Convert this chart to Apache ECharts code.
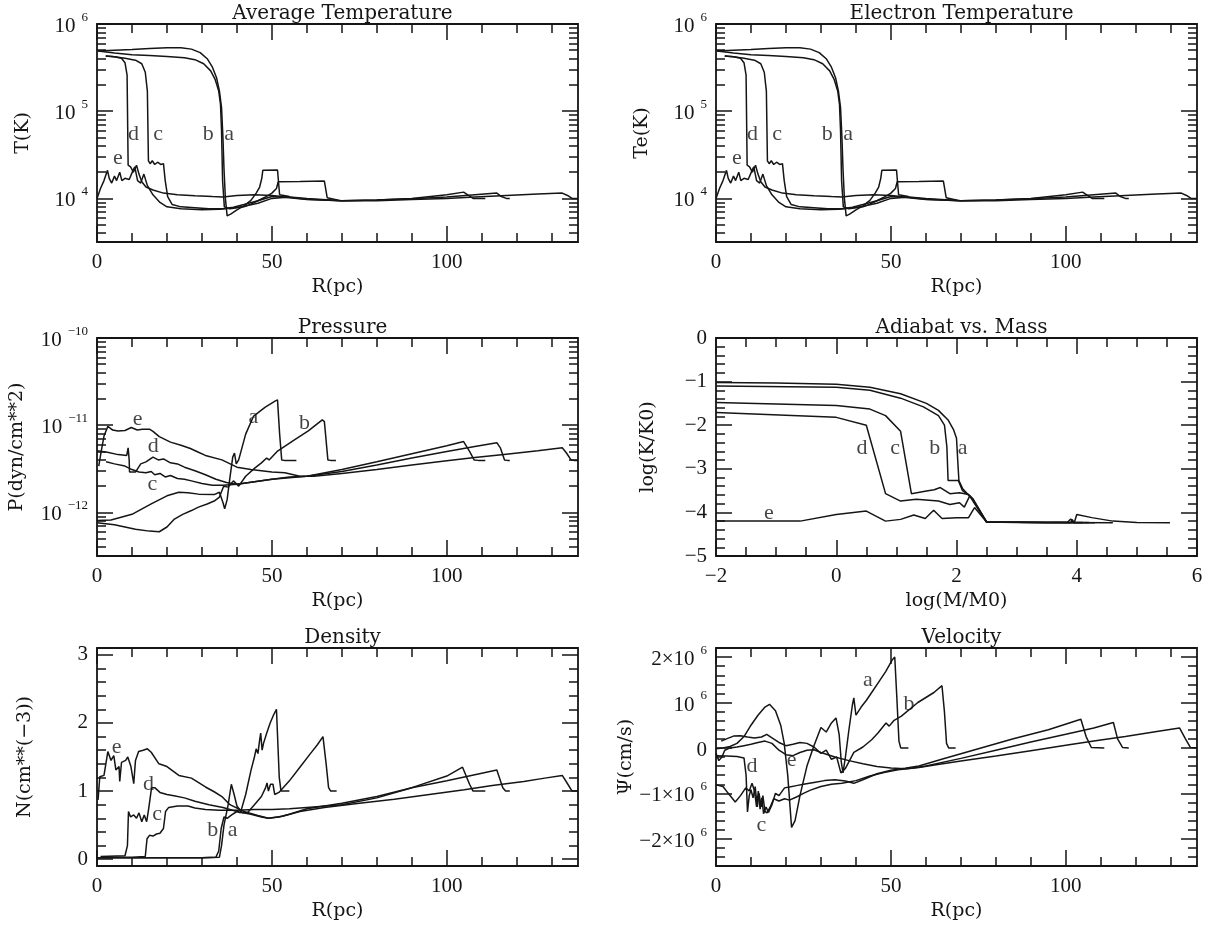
<!DOCTYPE html>
<html><head><meta charset="utf-8">
<script src="https://cdn.jsdelivr.net/npm/echarts@6/dist/echarts.min.js"></script>
<style>html,body{margin:0;padding:0;background:#fff}#c{width:1216px;height:926px}</style>
</head><body><div id="c"></div>
<script>
// ---------------- DATA ----------------
// Temperature (R in pc, T in K) - models a..e
const tempA = [[0.3,4.9e5],[5,5.0e5],[10,5.1e5],[15,5.25e5],[20,5.35e5],[24,5.35e5],[27,5.15e5],[29.5,4.7e5],[31.5,4.0e5],[33,3.2e5],[34.2,2.4e5],[35,1.7e5],[35.6,1.1e5],[36,5e4],[36.3,2.2e4],[36.7,1.0e4],[37.2,6.3e3],[38.2,6.6e3],[40,7.4e3],[42,8.2e3],[44,9.5e3],[45.5,1.15e4],[46.5,1.35e4],[47.1,1.7e4],[47.4,2.1e4],[51.6,2.12e4],[52.2,1.1e4],[55,1.05e4]];
const tempB = [[0.3,4.9e5],[5,4.65e5],[10,4.45e5],[15,4.35e5],[20,4.25e5],[25,4.1e5],[28,3.9e5],[30.5,3.5e5],[32.5,2.9e5],[33.8,2.3e5],[34.8,1.7e5],[35.3,1.2e5],[35.6,6e4],[35.9,1.6e4],[36.4,8.0e3],[38,7.6e3],[40,7.8e3],[42,8.0e3],[44,8.6e3],[46,9.4e3],[48,1.03e4],[50,1.15e4],[51.3,1.3e4],[51.8,1.55e4],[58,1.56e4],[65,1.58e4],[65.8,1.02e4],[69,9.5e3]];
const tempC = [[2.5,4.3e5],[5,4.2e5],[8,4.05e5],[11,3.85e5],[12.8,3.5e5],[13.8,2.8e5],[14.4,1.7e5],[14.7,2.7e4],[15.2,2.5e4],[15.8,2.7e4],[16.5,2.45e4],[17.3,2.6e4],[18.2,2.45e4],[19,2.5e4],[19.5,1.6e4],[20.2,1.05e4],[21.5,8.5e3],[24,8.0e3],[28,7.8e3],[32,7.6e3],[36,7.6e3],[39,7.9e3],[42,8.5e3],[46,9.4e3],[50,1.05e4],[55,1.02e4],[60,9.7e3],[70,9.4e3],[80,9.6e3],[90,1.0e4],[100,1.1e4],[104.8,1.18e4],[106.2,1.08e4],[107.5,1.0e4],[111,1.0e4]];
const tempD = [[2.5,4.3e5],[5,4.2e5],[7,4.05e5],[8,3.6e5],[8.6,2.6e5],[8.9,2.4e4],[9.6,2.3e4],[10.4,2.0e4],[11.3,2.4e4],[12,1.9e4],[12.8,1.55e4],[14,1.35e4],[16,1.25e4],[19,1.15e4],[23,1.1e4],[28,1.07e4],[33,1.05e4],[36,1.04e4],[40,1.08e4],[45,1.1e4],[50,1.08e4],[55,1.03e4],[60,9.8e3],[70,9.4e3],[80,9.6e3],[90,9.9e3],[100,1.04e4],[108,1.1e4],[114.3,1.15e4],[115.6,1.05e4],[117,1.0e4],[118,1.0e4]];
const tempE = [[0,1.0e4],[1,1.3e4],[2,1.6e4],[3,2.1e4],[3.5,1.7e4],[4.2,1.5e4],[5,1.8e4],[5.6,1.6e4],[6.5,2.0e4],[7.1,1.6e4],[8,1.7e4],[9.2,1.65e4],[10.1,2.0e4],[10.8,2.3e4],[11.6,1.6e4],[12.5,1.5e4],[13.4,1.9e4],[14.4,1.4e4],[16,1.1e4],[18,9.0e3],[20,8.0e3],[24,7.6e3],[30,7.4e3],[35,7.5e3],[38,7.7e3],[42,8.1e3],[46,8.8e3],[50,1.0e4],[55,1.04e4],[60,1.0e4],[70,9.4e3],[80,9.4e3],[90,9.7e3],[100,1.0e4],[108,1.04e4],[117,1.08e4],[126,1.12e4],[133,1.15e4],[134.5,1.08e4],[135.8,1.0e4],[137.5,1.0e4]];
const tempNotes = [[6.0,2.9e4,'e'],[10.4,5.4e4,'d'],[17.5,5.4e4,'c'],[31.8,5.4e4,'b'],[37.8,5.4e4,'a']];

// Pressure (dyn/cm^2)
const presA = [[0,8.1e-13],[4,8.2e-13],[10,9.5e-13],[15.5,1.25e-12],[20,1.55e-12],[23.4,1.7e-12],[26,1.68e-12],[29,1.62e-12],[33.5,1.6e-12],[35,1.7e-12],[36,1.3e-12],[36.5,1.1e-12],[37.2,1.4e-12],[38,2.5e-12],[38.8,4.3e-12],[39.3,4.8e-12],[39.8,3.6e-12],[40.5,4.0e-12],[42.5,7.9e-12],[44.7,1.26e-11],[48,1.6e-11],[51,1.9e-11],[51.6,1.95e-11],[52.2,8e-12],[52.8,4.0e-12],[53.5,3.95e-12],[57,3.95e-12]];
const presB = [[0,7.6e-13],[5,7.2e-13],[11,6.4e-13],[15,6.1e-13],[17.8,6.0e-13],[20,6.8e-13],[22,8.3e-13],[24.5,9.5e-13],[27,1.05e-12],[29,1.15e-12],[31.5,1.25e-12],[33.5,1.35e-12],[35,1.5e-12],[36.2,2.0e-12],[37.5,1.95e-12],[39,2.3e-12],[40.5,2.0e-12],[42.5,2.6e-12],[45,3.2e-12],[47,3.7e-12],[48.5,4.2e-12],[49.2,4.0e-12],[51.5,5.0e-12],[56,6.6e-12],[60.4,8.6e-12],[64.4,1.15e-11],[65,1.1e-11],[66,4.0e-12],[66.8,3.95e-12],[68.3,3.95e-12]];
const presC = [[2.6,3.8e-12],[5,3.6e-12],[8,3.4e-12],[10,3.1e-12],[12,2.9e-12],[14,2.85e-12],[15.5,2.95e-12],[16.5,2.7e-12],[18,2.8e-12],[19.5,2.55e-12],[21,2.65e-12],[23,2.45e-12],[25,2.4e-12],[27,2.3e-12],[30,2.15e-12],[33,2.05e-12],[36,2.05e-12],[40,2.1e-12],[45,2.25e-12],[50,2.4e-12],[55,2.55e-12],[60,2.6e-12],[70,3.1e-12],[80,3.8e-12],[90,4.7e-12],[100,5.8e-12],[104.8,6.5e-12],[106.5,5e-12],[107.8,4.0e-12],[109,3.95e-12],[111,3.95e-12]];
const presD = [[0,5.1e-12],[3,4.9e-12],[6,4.6e-12],[8.5,4.5e-12],[8.9,5.5e-12],[9.2,4.0e-12],[9.3,2.9e-12],[11,2.9e-12],[12.5,3.6e-12],[14,3.8e-12],[16,4.3e-12],[17.5,4.0e-12],[19,4.1e-12],[21,3.7e-12],[23,3.6e-12],[25,3.3e-12],[28,3.0e-12],[31,2.7e-12],[34,2.4e-12],[37,2.2e-12],[40,2.1e-12],[45,2.25e-12],[50,2.4e-12],[55,2.5e-12],[60,2.6e-12],[70,2.95e-12],[80,3.5e-12],[90,4.2e-12],[100,5.0e-12],[108,5.7e-12],[114.3,6.3e-12],[115.3,5.5e-12],[116.5,4.0e-12],[117.3,3.95e-12],[118,3.95e-12]];
const presE = [[0.5,3.4e-12],[1.2,5e-12],[2,7.5e-12],[3.1,9.7e-12],[4.5,8.8e-12],[6,8.6e-12],[8,8.7e-12],[9.8,9.4e-12],[11.5,8.8e-12],[13,9.0e-12],[15,9.0e-12],[16,8.5e-12],[17.8,7.4e-12],[21,6.4e-12],[24,5.9e-12],[26.7,5.4e-12],[29,4.9e-12],[31,4.5e-12],[35.7,4.0e-12],[40,3.3e-12],[44,3.1e-12],[47,3.0e-12],[50,2.9e-12],[53.7,2.85e-12],[58,2.6e-12],[62,2.6e-12],[70,2.8e-12],[80,3.1e-12],[90,3.5e-12],[100,3.9e-12],[108,4.25e-12],[117,4.65e-12],[126,5.1e-12],[133,5.5e-12],[134.2,4.8e-12],[135.5,4.0e-12],[136.3,3.95e-12],[137.5,3.95e-12]];
const presNotes = [[11.6,1.17e-11,'e'],[16.1,5.7e-12,'d'],[15.8,2.13e-12,'c'],[44.7,1.23e-11,'a'],[59.3,1.05e-11,'b']];

// Adiabat: log(M/M0) vs log(K/K0)
const adiA = [[-2,-1.02],[-1,-1.03],[0,-1.06],[0.56,-1.13],[1.07,-1.28],[1.5,-1.5],[1.7,-1.66],[1.86,-1.88],[1.95,-2.1],[2.0,-2.3],[2.02,-2.8],[2.04,-3.27],[2.1,-3.45],[2.2,-3.6],[2.27,-3.7],[2.4,-4.0],[2.5,-4.22],[3.0,-4.23],[3.5,-4.23],[3.85,-4.22],[3.9,-4.15],[3.95,-4.24],[4.2,-4.23]];
const adiB = [[-2,-1.1],[0,-1.13],[0.56,-1.2],[1.07,-1.38],[1.45,-1.58],[1.7,-1.78],[1.8,-2.0],[1.84,-2.5],[1.86,-3.27],[2.03,-3.27],[2.1,-3.5],[2.2,-3.6],[2.27,-3.7],[2.5,-4.22],[3.5,-4.23],[4.3,-4.24]];
const adiC = [[-2,-1.48],[0,-1.55],[0.56,-1.63],[0.82,-1.78],[1.07,-2.14],[1.25,-3.57],[1.5,-3.51],[1.63,-3.48],[1.73,-3.43],[1.89,-3.57],[2.05,-3.55],[2.2,-3.59],[2.27,-3.68],[2.5,-4.22],[3.5,-4.23],[4.6,-4.24]];
const adiD = [[-2,-1.71],[0,-1.82],[0.5,-2.0],[0.82,-3.57],[1.07,-3.74],[1.33,-3.7],[1.7,-3.74],[1.89,-3.82],[2.05,-3.78],[2.13,-3.88],[2.22,-3.62],[2.3,-3.8],[2.5,-4.22],[3.5,-4.23],[4.1,-4.23]];
const adiE = [[-2,-4.2],[-0.6,-4.2],[0,-4.05],[0.5,-3.97],[0.82,-4.2],[1.07,-4.16],[1.29,-4.06],[1.48,-4.14],[1.62,-3.95],[1.76,-4.14],[2.0,-4.12],[2.2,-4.12],[2.3,-3.89],[2.5,-4.22],[3.9,-4.24],[3.92,-4.16],[3.96,-4.23],[4.0,-4.05],[4.25,-4.12],[4.6,-4.2],[5.0,-4.23],[5.55,-4.24]];
const adiNotes = [[0.43,-2.53,'d'],[0.98,-2.53,'c'],[1.64,-2.53,'b'],[2.1,-2.53,'a'],[-1.12,-4.02,'e']];

// Density (cm^-3)
const densA = [[0,0.02],[10,0.02],[20,0.02],[30,0.02],[34,0.03],[34.8,0.12],[35.5,0.45],[36.3,0.62],[37.2,0.6],[38.5,0.65],[40,0.7],[41,0.68],[42.5,0.95],[44,1.3],[45,1.5],[45.5,1.62],[46,1.55],[46.5,1.75],[46.8,1.85],[47.2,1.6],[47.6,1.7],[48.5,1.85],[49.5,2.0],[50.5,2.12],[51.3,2.2],[52.1,1.2],[52.6,1.0],[55,1.0]];
const densB = [[0,0.02],[30,0.02],[35,0.03],[35.6,0.2],[36.3,0.5],[37.5,0.8],[38.4,1.1],[39.2,0.95],[40,0.78],[41.5,0.68],[43,0.68],[45,0.8],[47,0.92],[48.2,1.05],[48.6,1.12],[49,1.0],[49.6,1.1],[50.3,1.1],[50.8,0.95],[52,0.98],[55,1.15],[58,1.35],[61,1.55],[63,1.68],[64.6,1.8],[65.5,1.4],[66.2,1.05],[66.8,1.0],[68.5,1.0]];
const densC = [[2,0.03],[10,0.03],[13.8,0.04],[14.3,0.3],[15,0.35],[16,0.34],[17,0.37],[18,0.38],[19,0.45],[19.6,0.7],[20.5,0.76],[23,0.78],[26,0.78],[28,0.75],[31,0.73],[35,0.72],[40,0.72],[45,0.73],[50,0.73],[55,0.74],[60,0.76],[70,0.8],[80,0.9],[90,1.05],[100,1.22],[104.5,1.35],[106.5,1.1],[107.5,1.0],[111,1.0]];
const densD = [[1,0.04],[8,0.05],[8.7,0.2],[9,0.7],[9.6,0.62],[10.5,0.65],[11.3,0.6],[12,0.68],[12.8,0.55],[13.5,0.65],[14.2,0.55],[14.8,0.75],[15.6,1.05],[16.5,1.05],[18,0.98],[20,0.95],[22,0.93],[25,0.9],[28,0.85],[32,0.8],[36,0.76],[40,0.7],[44,0.66],[47,0.62],[49,0.6],[52,0.62],[55,0.66],[60,0.74],[70,0.82],[80,0.92],[90,1.05],[100,1.15],[108,1.24],[114.3,1.31],[116,1.05],[116.8,1.0],[118,1.0]];
const densE = [[0.3,0.87],[0.8,1.21],[2,1.23],[3.1,1.58],[4,1.45],[4.8,1.52],[5.4,1.31],[6.3,1.36],[6.5,1.14],[7,1.42],[8.2,1.45],[8.8,1.5],[9.7,1.36],[10.5,1.11],[11,1.45],[11.9,1.58],[13.2,1.6],[14.4,1.62],[15.5,1.57],[17.7,1.4],[20,1.36],[23.4,1.23],[27,1.19],[31,1.06],[33.5,0.99],[35.7,0.92],[38,0.8],[42,0.7],[46,0.64],[49,0.6],[53,0.63],[58,0.7],[65,0.76],[75,0.82],[85,0.88],[95,0.95],[105,1.02],[113,1.08],[122,1.14],[128,1.19],[133,1.23],[134.6,1.1],[135.8,1.0],[137.5,1.0]];
const densNotes = [[5.6,1.65,'e'],[14.7,1.10,'d'],[17.2,0.66,'c'],[33.1,0.43,'b'],[38.8,0.43,'a']];

// Velocity (units of 10^6 cm/s)
const velA = [[0,-0.02],[2,0.0],[4,0.03],[6,0.1],[8,0.25],[10,0.5],[12,0.72],[14,0.9],[15.3,0.96],[17,0.82],[18.5,0.5],[19.5,0.1],[20.5,-0.6],[21.6,-1.75],[22.6,-1.6],[24,-1.05],[26,-0.4],[28,0.05],[30,0.45],[31.5,0.35],[33,0.55],[34.3,0.66],[35.2,0.3],[35.8,-0.3],[36.3,-0.55],[37,-0.2],[38,0.4],[39,0.95],[39.4,1.1],[40,0.72],[41.5,0.9],[43,1.05],[44.5,1.22],[46.5,1.45],[48.5,1.68],[50.3,1.93],[51.1,2.0],[51.7,1.1],[52.3,0.15],[52.8,0],[55,0]];
const velB = [[1.5,0.15],[3,0.2],[5,0.26],[7,0.27],[9,0.24],[11,0.22],[13,0.24],[14.5,0.3],[16,0.22],[18,0.12],[20,0.05],[22,0.08],[24,0.12],[26,0.1],[28,0.02],[30,-0.12],[31.5,-0.05],[33,-0.25],[34.5,-0.2],[35.7,-0.55],[37,-0.45],[39.4,-0.1],[42,0.02],[44.5,0.18],[46.3,0.33],[48.6,0.55],[49.5,0.48],[50.8,0.6],[53,0.7],[57.7,1.0],[62.3,1.22],[64.6,1.37],[65.3,0.8],[65.9,0.1],[66.5,0],[68.5,0]];
const velC = [[0,-0.81],[2,-0.85],[3.5,-1.0],[5.5,-1.19],[7,-1.05],[8.5,-0.88],[9.5,-0.95],[10.3,-0.78],[11,-0.95],[11.6,-1.3],[12.1,-0.95],[12.6,-1.35],[13.1,-1.1],[13.6,-1.45],[14.3,-1.3],[15,-1.42],[16,-1.25],[17,-1.0],[18,-1.05],[19.6,-0.88],[21,-0.86],[23,-0.83],[25,-0.8],[28,-0.76],[31,-0.72],[34,-0.7],[37,-0.73],[39.4,-0.78],[42,-0.7],[46,-0.57],[50,-0.49],[54,-0.45],[58,-0.4],[65,-0.24],[75,-0.02],[85,0.2],[95,0.4],[104.3,0.63],[105.8,0.25],[107.3,0.01],[111,0]];
const velD = [[0,-0.17],[3,-0.18],[6,-0.19],[8,-0.22],[8.6,-0.6],[9,-1.41],[9.5,-1.05],[10,-0.92],[10.6,-1.1],[11.2,-0.85],[11.8,-1.3],[12.3,-1.0],[12.9,-1.3],[13.4,-1.05],[14,-1.4],[14.6,-1.43],[15.5,-1.3],[16.5,-1.12],[18,-1.17],[19.6,-1.12],[21,-1.15],[23,-1.08],[25,-1.0],[27,-0.93],[30,-0.85],[33,-0.8],[36,-0.78],[40,-0.72],[44,-0.62],[48,-0.54],[52,-0.48],[56,-0.45],[60,-0.4],[70,-0.23],[80,-0.05],[90,0.13],[100,0.3],[108,0.44],[113.6,0.56],[114.8,0.2],[116.2,0.01],[118,0]];
const velE = [[0,-0.12],[0.8,-0.28],[1.7,-0.2],[2.5,-0.05],[4,0.0],[6,0.02],[8,0.05],[10,0.08],[12,0.12],[14,0.15],[16,0.1],[18,-0.05],[20,-0.15],[22,-0.17],[24,-0.1],[26,-0.05],[28,-0.04],[30,-0.1],[34,-0.2],[38,-0.28],[42,-0.35],[46,-0.41],[50,-0.44],[54,-0.46],[58,-0.43],[62,-0.38],[70,-0.29],[80,-0.18],[90,-0.06],[100,0.06],[108,0.15],[117,0.25],[126,0.36],[132.5,0.44],[134.2,0.2],[135.6,0.01],[137.5,0]];
const velNotes = [[43.4,1.48,'a'],[55.2,0.96,'b'],[21.6,-0.26,'e'],[10.3,-0.41,'d'],[13.0,-1.70,'c']];

// Tick labels
const rTickLabels = [0, 50, 100];
const massTickLabels = [-2, 0, 2, 4, 6];
const tempDecades = [4, 5, 6];
const presDecades = [-12, -11, -10];
const densTickLabels = [0, 1, 2, 3];
const adiTickLabels = [-5, -4, -3, -2, -1, 0];
const velTickLabels = [-2, -1, 0, 1, 2];

// ---------------- BUILD ----------------
const INK = '#151515';
const SERIF = 'Liberation Serif';
const TSERIF = 'DejaVu Serif';
const MAJ = 16, MINL = 9, W = 481, H = 218;
const COLS = [97, 716], ROWS = [24, 338, 648];
const R_MAX = 137.5;

function steps(a, b, s, skip) {
  const out = [];
  const n0 = Math.ceil(a / s - 1e-9), n1 = Math.floor(b / s + 1e-9);
  for (let n = n0; n <= n1; n++) {
    const v = +(n * s).toFixed(6);
    if (!skip || skip.indexOf(v) < 0) out.push(v);
  }
  return out;
}
function logMinor(lo, hi) {
  const out = [];
  for (let n = Math.floor(lo); n < hi; n++)
    for (let k = 2; k <= 9; k++) {
      const v = n + Math.log10(k);
      if (v > lo + 1e-9 && v < hi - 1e-9) out.push(v);
    }
  return out;
}
const minus = v => (v < 0 ? '\u2212' + Math.abs(v) : String(v));
const RICH = {
  b: { fontFamily: SERIF, fontSize: 21, color: INK, lineHeight: 26, verticalAlign: 'bottom' },
  s: { fontFamily: SERIF, fontSize: 13, color: INK, lineHeight: 12, verticalAlign: 'top', padding: [0, 0, 0, 6] }
};
const powFmt = v => '{b|10}{s|' + minus(Math.round(v)) + '}';
const velFmt = v => {
  const k = Math.round(v);
  if (k === 0) return '{b|0}';
  if (k === 1) return '{b|10}{s|6}';
  return '{b|' + minus(k) + '\u00d710}{s|6}';
};

const rAxis = { min: 0, max: R_MAX, major: [0, 50, 100], minor: steps(0, R_MAX, 10, [0, 50, 100]), labels: rTickLabels, fmt: v => String(v) };
const mAxis = { min: -2, max: 6, major: massTickLabels, minor: steps(-2, 6, 0.5, massTickLabels), labels: massTickLabels, fmt: v => minus(v) };

const panels = [
  { title: 'Average Temperature', col: 0, row: 0, x: rAxis, xName: 'R(pc)', yName: 'T(K)', yGap: 64, log: true,
    y: { min: 3.5, max: 6, major: tempDecades, minor: logMinor(3.5, 6), labels: tempDecades, fmt: powFmt },
    series: [tempA, tempB, tempC, tempD, tempE], notes: tempNotes },
  { title: 'Electron Temperature', col: 1, row: 0, x: rAxis, xName: 'R(pc)', yName: 'Te(K)', yGap: 64, log: true,
    y: { min: 3.5, max: 6, major: tempDecades, minor: logMinor(3.5, 6), labels: tempDecades, fmt: powFmt },
    series: [tempA, tempB, tempC, tempD, tempE], notes: tempNotes },
  { title: 'Pressure', col: 0, row: 1, x: rAxis, xName: 'R(pc)', yName: 'P(dyn/cm**2)', yGap: 70, log: true,
    y: { min: -12.5, max: -10, major: presDecades, minor: logMinor(-12.5, -10), labels: presDecades, fmt: powFmt },
    series: [presA, presB, presC, presD, presE], notes: presNotes },
  { title: 'Adiabat vs. Mass', col: 1, row: 1, x: mAxis, xName: 'log(M/M0)', yName: 'log(K/K0)', yGap: 58, log: false,
    y: { min: -5, max: 0, major: adiTickLabels, minor: steps(-5, 0, 0.2, adiTickLabels), labels: adiTickLabels, fmt: v => minus(v) },
    series: [adiA, adiB, adiC, adiD, adiE], notes: adiNotes },
  { title: 'Density', col: 0, row: 2, x: rAxis, xName: 'R(pc)', yName: 'N(cm**(\u22123))', yGap: 62, log: false,
    y: { min: -0.1, max: 3.1, major: densTickLabels, minor: steps(0, 3, 0.2, densTickLabels), labels: densTickLabels, fmt: v => String(v) },
    series: [densA, densB, densC, densD, densE], notes: densNotes },
  { title: 'Velocity', col: 1, row: 2, x: rAxis, xName: 'R(pc)', yName: '\u03a8(cm/s)', yGap: 62, log: false,
    y: { min: -2.6, max: 2.2, major: velTickLabels, minor: steps(-2.6, 2.2, 0.2, velTickLabels), labels: velTickLabels, fmt: velFmt },
    series: [velA, velB, velC, velD, velE], notes: velNotes }
];

const option = { animation: false, backgroundColor: '#fff', grid: [], xAxis: [], yAxis: [], series: [], title: [] };

function tick(vals, len) {
  return { show: true, inside: true, length: len, customValues: vals, lineStyle: { color: INK, width: 1.5 } };
}
function addAxes(arr, gi, a, p1, p2, name, gap, isY) {
  const base = { type: 'value', gridIndex: gi, min: a.min, max: a.max, axisLine: { show: false, onZero: false }, splitLine: { show: false }, minorTick: { show: false } };
  arr.push(Object.assign({}, base, {
    position: p1, axisTick: tick(a.major, MAJ),
    axisLabel: { show: true, customValues: a.labels, formatter: a.fmt, margin: isY ? 9 : 10, color: INK, fontFamily: SERIF, fontSize: 21, rich: RICH, showMinLabel: true, showMaxLabel: true },
    name: name, nameLocation: 'middle', nameGap: gap,
    nameTextStyle: { fontFamily: TSERIF, fontSize: 19, color: INK }
  }));
  arr.push(Object.assign({}, base, { position: p1, axisTick: tick(a.minor, MINL), axisLabel: { show: false } }));
  arr.push(Object.assign({}, base, { position: p2, axisTick: tick(a.major, MAJ), axisLabel: { show: false } }));
  arr.push(Object.assign({}, base, { position: p2, axisTick: tick(a.minor, MINL), axisLabel: { show: false } }));
}

panels.forEach((p, i) => {
  const left = COLS[p.col], top = ROWS[p.row];
  option.grid.push({ left: left, top: top, width: W, height: H, show: true, borderColor: INK, borderWidth: 1.8, backgroundColor: 'transparent' });
  option.title.push({ text: p.title, left: left + W / 2, top: top - 25, textAlign: 'center',
    textStyle: { fontFamily: TSERIF, fontSize: 20, fontWeight: 'normal', color: INK } });
  const xi = option.xAxis.length, yi = option.yAxis.length;
  addAxes(option.xAxis, i, p.x, 'bottom', 'top', p.xName, 36, false);
  addAxes(option.yAxis, i, p.y, 'left', 'right', p.yName, p.yGap, true);
  const tf = v => (p.log ? Math.log10(v) : v);
  p.series.forEach(d => {
    option.series.push({ type: 'line', xAxisIndex: xi, yAxisIndex: yi, data: d.map(pt => [pt[0], tf(pt[1])]),
      showSymbol: false, symbol: 'none', silent: true, lineStyle: { color: INK, width: 1.5 } });
  });
  option.series.push({ type: 'scatter', xAxisIndex: xi, yAxisIndex: yi, silent: true, symbolSize: 1,
    itemStyle: { color: 'rgba(0,0,0,0)' },
    data: p.notes.map(n => [n[0], tf(n[1]), n[2]]),
    label: { show: true, position: 'inside', color: INK, fontFamily: SERIF, fontSize: 22, formatter: q => q.value[2] } });
});

const chart = echarts.init(document.getElementById('c'), null, { renderer: 'canvas' });
chart.setOption(option);
</script>
</body></html>
